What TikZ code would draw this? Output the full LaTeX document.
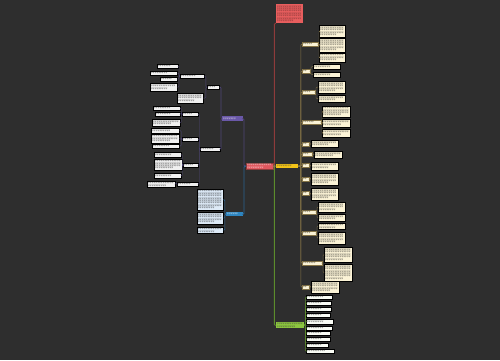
\documentclass[tikz,border=0pt]{standalone}
\usepackage{fontspec}
\newfontfamily\cjk{Noto Sans CJK SC}
\XeTeXlinebreaklocale "zh"
\XeTeXlinebreakskip=0pt plus 0.2pt
\ExplSyntaxOn
\cs_new:Npn \rep #1#2 { \prg_replicate:nn {#1} {#2} }
\ExplSyntaxOff
\definecolor{bgc}{HTML}{2E2E2E}
\definecolor{rootc}{HTML}{E0575E}
\definecolor{introc}{HTML}{E85E5E}
\definecolor{ylwc}{HTML}{F2C318}
\definecolor{grnc}{HTML}{8CC63F}
\definecolor{purc}{HTML}{6A58A8}
\definecolor{bluc}{HTML}{2E86C1}
\definecolor{creamc}{HTML}{FBF3D6}
\definecolor{lbluc}{HTML}{DDEAF7}
\definecolor{rlc}{HTML}{8E3B3B}
\definecolor{ylc}{HTML}{857447}
\definecolor{glc}{HTML}{5C8C2C}
\definecolor{plc}{HTML}{4E4577}
\definecolor{blc}{HTML}{2A628F}
\newcommand{\lf}[6]{
	\pgfmathsetmacro\lfw{#4-#2}
	\pgfmathsetmacro\lfh{#5-#3}
	\pgfmathsetmacro\lft{#4-#2-2}
	\pgfmathtruncatemacro\lfl{max(1,floor((\lfw-2)/1.8))}
	\pgfmathtruncatemacro\lfn{max(1,floor((\lfh-1)/2.4))}
	\pgfmathtruncatemacro\lfc{max(1,\lfl*\lfn-floor(\lfl/3))}
	\node[#6, anchor=north west, text width=\lft pt, minimum height=\lfh pt] (#1) at (#2,#3) {\rep{\lfc}{字}};
}

\begin{document}
\begin{tikzpicture}[x=1pt,y=-1pt,
	box/.style={inner xsep=1pt, inner ysep=0.5pt, align=left, font={\fontsize{1.8}{2.4}\cjk}, text=black!90},
	rootn/.style={box, fill=rootc, draw=rlc, line width=0.3pt, text=white},
	intron/.style={box, fill=introc, text=rlc!60!black},
	ynode/.style={box, fill=ylwc, text=black!80},
	gnode/.style={box, fill=grnc, text=black!80},
	pnode/.style={box, fill=purc, text=white},
	bnode/.style={box, fill=bluc, text=white},
	ylab/.style={box, fill=creamc, draw=ylc, line width=0.2pt},
	yleaf/.style={box, fill=creamc, draw=black, line width=0.3pt},
	gleaf/.style={box, fill=white!95!grnc, draw=black, line width=0.3pt},
	plab/.style={box, fill=white!94!black, draw=black, line width=0.3pt},
	pleaf/.style={box, fill=white!94!black, draw=black, line width=0.3pt},
	bleaf/.style={box, fill=lbluc, draw=black, line width=0.3pt},
	lnk/.style={line width=0.6pt, rounded corners=1pt},
	]
	\fill[bgc] (0,0) rectangle (500,360);
	\useasboundingbox (0,0) rectangle (500,360);

	% centre and main branches
	\lf{root}{246}{163}{273}{169}{rootn}
	\lf{intro}{276}{4}{303}{23}{intron}
	\lf{ybr}{276}{164}{298}{168}{ynode}
	\lf{gbr}{276}{322}{304}{328}{gnode}
	\lf{pbr}{222}{116}{243}{121}{pnode}
	\lf{bbr}{226}{212}{243}{216}{bnode}

	% yellow branch
	\lf{e1}{302}{42}{318}{46}{ylab}
	\lf{e1-1}{319}{25}{345}{37}{yleaf}
	\lf{e1-2}{319}{38}{345}{52}{yleaf}
	\lf{e1-3}{319}{53}{345}{62}{yleaf}
	\lf{e2}{302}{69}{310}{73}{ylab}
	\lf{e2-1}{313}{64}{340}{69}{yleaf}
	\lf{e2-2}{313}{72}{340}{77}{yleaf}
	\lf{e3}{302}{90}{315}{94}{ylab}
	\lf{e3-1}{318}{81}{345}{93}{yleaf}
	\lf{e3-2}{318}{95}{345}{102}{yleaf}
	\lf{e4}{302}{120}{321}{124}{ylab}
	\lf{e4-1}{322}{106}{350}{117}{yleaf}
	\lf{e4-2}{322}{119}{350}{127}{yleaf}
	\lf{e4-3}{322}{129}{350}{137}{yleaf}
	\lf{e5}{302}{142}{309}{146}{ylab}
	\lf{e5-1}{311}{140}{338}{147}{yleaf}
	\lf{e6}{302}{152}{312}{156}{ylab}
	\lf{e6-1}{314}{151}{342}{158}{yleaf}
	\lf{e7}{302}{163}{309}{167}{ylab}
	\lf{e7-1}{311}{162}{338}{170}{yleaf}
	\lf{e8}{302}{177}{309}{181}{ylab}
	\lf{e8-1}{311}{173}{338}{185}{yleaf}
	\lf{e9}{302}{191}{309}{195}{ylab}
	\lf{e9-1}{311}{188}{338}{200}{yleaf}
	\lf{e10}{302}{210}{316}{214}{ylab}
	\lf{e10-1}{318}{202}{345}{212}{yleaf}
	\lf{e10-2}{318}{214}{345}{221}{yleaf}
	\lf{e11}{302}{231}{316}{235}{ylab}
	\lf{e11-1}{318}{223}{345}{229}{yleaf}
	\lf{e11-2}{318}{232}{345}{244}{yleaf}
	\lf{e12}{302}{261}{322}{265}{ylab}
	\lf{e12-1}{324}{247}{352}{262}{yleaf}
	\lf{e12-2}{324}{264}{352}{281}{yleaf}
	\lf{e13}{302}{285}{309}{289}{ylab}
	\lf{e13-1}{311}{281}{339}{293}{yleaf}

	% green branch
	\foreach \i/\a/\b/\c in {1/295/299/332,2/301/305/331,3/307/311/331,4/313/317/330,5/319/324/333,
		6/326/330/332,7/331/335/330,8/337/341/330,9/343/347/328,10/349/353/334}
		{\lf{g\i}{306}{\a}{\c}{\b}{gleaf}}

	% purple branch
	\lf{pa}{207}{85}{219}{89}{plab}
	\lf{pb}{200}{147}{220}{151}{plab}
	\lf{pc}{180}{74}{204}{78}{plab}
	\lf{pd}{177}{93}{203}{103}{pleaf}
	\lf{pc-1}{157}{64}{178}{68}{pleaf}
	\lf{pc-2}{150}{71}{177}{75}{pleaf}
	\lf{pc-3}{160}{77}{177}{81}{pleaf}
	\lf{pc-4}{150}{83}{177}{91}{pleaf}
	\lf{q1}{182}{112}{198}{116}{plab}
	\lf{q2}{182}{137}{198}{141}{plab}
	\lf{q3}{183}{163}{198}{167}{plab}
	\lf{q4}{177}{182}{198}{186}{plab}
	\lf{q1-1}{153}{106}{180}{110}{pleaf}
	\lf{q1-2}{155}{112}{180}{116}{pleaf}
	\lf{q1-3}{152}{119}{180}{126}{pleaf}
	\lf{q2-1}{151}{128}{179}{133}{pleaf}
	\lf{q2-2}{151}{134}{179}{143}{pleaf}
	\lf{q2-3}{152}{144}{179}{148}{pleaf}
	\lf{q3-1}{154}{152}{181}{157}{pleaf}
	\lf{q3-2}{154}{159}{182}{170}{pleaf}
	\lf{q3-3}{154}{173}{181}{178}{pleaf}
	\lf{q4-1}{147}{181}{175}{187}{pleaf}

	% blue branch
	\lf{b1}{197}{189}{223}{210}{bleaf}
	\lf{b2}{197}{212}{223}{224}{bleaf}
	\lf{b3}{197}{227}{223}{233}{bleaf}

	% connectors
	\draw[lnk, rlc, line width=0.9pt] (root.east) -- ++(1,0) |- (intro.south west);
	\draw[lnk, glc, line width=0.9pt] (root.east) -- ++(1,0) |- (gbr.west);
	\draw[lnk, ylc, line width=0.9pt] (root.east) -- ++(1,0) |- (ybr.west);
	\draw[lnk, plc, line width=0.9pt] (root.west) -- ++(-2,0) |- (pbr.east);
	\draw[lnk, blc, line width=0.9pt] (root.west) -- ++(-2,0) |- (bbr.east);
	\foreach \i in {1,...,13}
		\draw[lnk, ylc] (ybr.east) -- ++(2.5,0) |- (e\i.west);
	\foreach \p/\n in {1/3,2/2,3/2,4/3,5/1,6/1,7/1,8/1,9/1,10/2,11/2,12/2,13/1}
		\foreach \c in {1,...,\n}
			\draw[lnk, ylc, line width=0.4pt] (e\p.east) -- ++(0.8,0) |- (e\p-\c.west);
	\foreach \i in {1,...,10}
		\draw[lnk, glc] (gbr.east) -- ++(1,0) |- (g\i.west);
	\foreach \c in {pa,pb}
		\draw[lnk, plc] (pbr.west) -- ++(-1,0) |- (\c.east);
	\foreach \c in {pc,pd}
		\draw[lnk, plc, line width=0.4pt] (pa.west) -- ++(-1.2,0) |- (\c.east);
	\foreach \c in {1,...,4}
		\draw[lnk, plc, line width=0.4pt] (pc.west) -- ++(-1,0) |- (pc-\c.east);
	\foreach \c in {q1,q2,q3,q4}
		\draw[lnk, plc, line width=0.4pt] (pb.west) -- ++(-0.8,0) |- (\c.east);
	\foreach \p/\n in {1/3,2/3,3/3,4/1}
		\foreach \c in {1,...,\n}
			\draw[lnk, plc, line width=0.4pt] (q\p.west) -- ++(-0.8,0) |- (q\p-\c.east);
	\foreach \c in {b1,b2,b3}
		\draw[lnk, blc] (bbr.west) -- ++(-1.2,0) |- (\c.east);
\end{tikzpicture}
\end{document}
